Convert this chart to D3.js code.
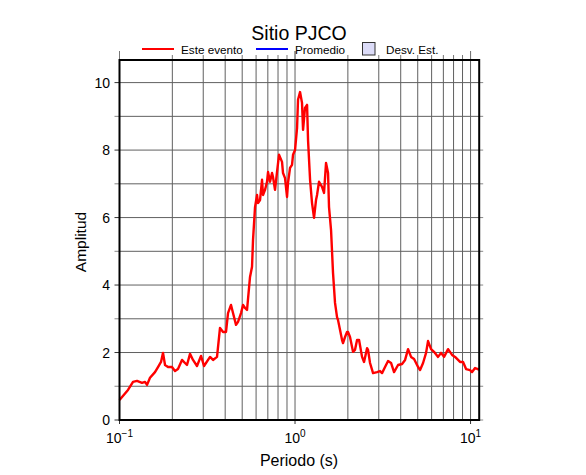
<!DOCTYPE html>
<html><head><meta charset="utf-8">
<script src="https://cdn.jsdelivr.net/npm/d3@7"></script>
<style>body{margin:0;background:#fff}svg{display:block;font-family:"Liberation Sans",Arial,sans-serif}</style>
</head><body>
<script>
const periods = [0.1,0.1118,0.1194,0.1258,0.1344,0.1398,0.1435,0.1492,0.1593,0.1657,0.1724,0.177,0.1817,0.189,0.1991,0.2071,0.2154,0.227,0.2361,0.2424,0.2522,0.2623,0.2764,0.2913,0.303,0.328,0.3411,0.3594,0.3737,0.3888,0.4044,0.4152,0.4318,0.4433,0.4611,0.4734,0.4924,0.5055,0.5189,0.5327,0.5541,0.5689,0.5764,0.5917,0.6074,0.6154,0.6318,0.6486,0.6572,0.6746,0.6925,0.7017,0.7202,0.7395,0.7492,0.7691,0.7895,0.8104,0.8431,0.8543,0.877,0.9003,0.9122,0.9365,0.9613,0.9741,1.0,1.027,1.04,1.068,1.096,1.111,1.14,1.171,1.186,1.218,1.25,1.283,1.317,1.335,1.37,1.425,1.463,1.502,1.542,1.562,1.604,1.646,1.69,1.735,1.758,1.805,1.853,1.877,1.927,1.978,2.004,2.057,2.14,2.197,2.256,2.316,2.409,2.473,2.572,2.606,2.675,2.783,2.933,3.05,3.131,3.257,3.388,3.524,3.665,3.863,4.072,4.236,4.405,4.581,4.765,5.022,5.156,5.363,5.578,5.726,5.956,6.194,6.529,6.791,7.063,7.445,7.846,8.161,8.714,9.064,9.428,9.937,10.2,10.61,11.03,11.18];
const amplitudes = [0.59,0.89,1.13,1.16,1.10,1.13,1.04,1.25,1.42,1.57,1.72,1.99,1.63,1.57,1.57,1.45,1.51,1.78,1.69,1.63,1.96,1.78,1.60,1.90,1.60,1.87,1.78,1.87,2.73,2.61,2.61,3.17,3.41,3.17,2.82,2.91,3.17,3.41,3.32,3.26,4.24,4.54,5.34,6.31,6.67,6.43,6.52,7.12,6.67,6.82,7.06,7.35,7.06,7.32,7.20,6.82,7.35,7.86,7.65,7.32,7.17,6.61,7.03,7.47,7.56,7.86,8.00,8.66,9.49,9.72,9.40,8.60,9.25,9.34,8.30,7.12,6.43,5.99,6.52,6.67,7.06,6.91,6.73,7.62,7.32,6.31,5.63,4.36,3.47,3.05,2.96,2.67,2.37,2.28,2.46,2.61,2.61,2.46,2.02,2.08,2.37,2.37,1.87,1.72,2.13,2.08,1.69,1.39,1.42,1.45,1.39,1.57,1.75,1.69,1.42,1.63,1.66,1.78,2.10,1.87,1.81,1.57,1.48,1.69,1.99,2.34,2.10,2.02,1.87,1.99,1.87,2.10,1.93,1.87,1.72,1.72,1.51,1.48,1.42,1.54,1.51,1.48];
const xGridValues = [0.2,0.3,0.4,0.5,0.6,0.7,0.8,0.9,1,2,3,4,5,6,7,8,9,10];
const xDecades = [0.1,1,10];
const xDecadeExponents = ["\u22121","0","1"];
const yGridValues = [1,2,3,4,5,6,7,8,9,10];
const yTickLabels = [0,2,4,6,8,10];
const legendItems = ["Este evento","Promedio","Desv. Est."];
const titleText = "Sitio PJCO";

const W=586,H=475;
const svg=d3.select("body").append("svg").attr("width",W).attr("height",H);
const x=d3.scaleLog().domain([0.1,11.2]).range([119.5,479.2]);
const y=d3.scaleLinear().domain([0,10.67]).range([420,60]);
const L=x.range()[0],R=x.range()[1],T=y.range()[1],B=y.range()[0];

// grid
svg.append("g").selectAll("line").data(xGridValues).join("line")
 .attr("x1",d=>x(d)).attr("x2",d=>x(d)).attr("y1",T).attr("y2",B)
 .attr("stroke","#606060").attr("stroke-width",1);
svg.append("g").selectAll("line").data(yGridValues).join("line")
 .attr("x1",L).attr("x2",R).attr("y1",d=>y(d)).attr("y2",d=>y(d))
 .attr("stroke","#606060").attr("stroke-width",1);

// outer ticks
svg.append("g").selectAll("line").data(xDecades.concat(xGridValues)).join("line")
 .attr("x1",d=>x(d)).attr("x2",d=>x(d)).attr("y1",T).attr("y2",d=>T-(xDecades.includes(d)?9:5))
 .attr("stroke","#777").attr("stroke-width",1);
svg.append("g").selectAll("line").data(xDecades).join("line")
 .attr("x1",d=>x(d)).attr("x2",d=>x(d)).attr("y1",B).attr("y2",B+4)
 .attr("stroke","#333").attr("stroke-width",1);
svg.append("g").selectAll("line").data([0].concat(yGridValues)).join("line")
 .attr("x1",L).attr("x2",L-5).attr("y1",d=>y(d)).attr("y2",d=>y(d))
 .attr("stroke",d=>d%2===0?"#333":"#888").attr("stroke-width",1);
svg.append("g").selectAll("line").data([0].concat(yGridValues)).join("line")
 .attr("x1",R).attr("x2",R+4).attr("y1",d=>y(d)).attr("y2",d=>y(d))
 .attr("stroke","#888").attr("stroke-width",1);

// curve
const line=d3.line().x((d,i)=>x(periods[i])).y(d=>y(d)).curve(d3.curveLinear);
svg.append("path").attr("d",line(amplitudes)).attr("fill","none")
 .attr("stroke","#ff0000").attr("stroke-width",2.4).attr("stroke-linejoin","round");

// frame
svg.append("rect").attr("x",L).attr("y",T).attr("width",R-L).attr("height",B-T)
 .attr("fill","none").attr("stroke","#000").attr("stroke-width",2);

// y labels
svg.append("g").selectAll("text").data(yTickLabels).join("text")
 .attr("x",110).attr("y",d=>y(d)).attr("dy","0.36em").attr("text-anchor","end")
 .attr("font-size",14).attr("fill","#000").text(d=>d);

// x labels
const xl=svg.append("g").selectAll("text").data(xDecades).join("text")
 .attr("x",d=>x(d)).attr("y",443).attr("text-anchor","middle").attr("font-size",14).attr("fill","#000");
xl.append("tspan").text("10");
xl.append("tspan").attr("font-size",10).attr("dy",-6).text((d,i)=>xDecadeExponents[i]);

// axis titles
svg.append("text").attr("x",299).attr("y",466).attr("text-anchor","middle").attr("font-size",16).text("Periodo (s)");
svg.append("text").attr("transform","translate(86,242) rotate(-90)").attr("text-anchor","middle").attr("font-size",15.5).text("Amplitud");

// title
svg.append("text").attr("x",299).attr("y",39.5).attr("text-anchor","middle").attr("font-size",19.5).text(titleText);

// legend
const lg=svg.append("g");
lg.append("line").attr("x1",142).attr("x2",174).attr("y1",49).attr("y2",49).attr("stroke","#ff0000").attr("stroke-width",2);
lg.append("text").attr("x",181).attr("y",53.5).attr("font-size",11.7).text(legendItems[0]);
lg.append("line").attr("x1",256).attr("x2",288).attr("y1",49).attr("y2",49).attr("stroke","#0000ff").attr("stroke-width",2);
lg.append("text").attr("x",295).attr("y",53.5).attr("font-size",11.7).text(legendItems[1]);
lg.append("rect").attr("x",362.5).attr("y",42.5).attr("width",12.5).attr("height",12.5).attr("fill","#dcdcf8").attr("stroke","#333").attr("stroke-width",1);
lg.append("text").attr("x",386).attr("y",53.5).attr("font-size",11.7).text(legendItems[2]);
</script>
</body></html>
